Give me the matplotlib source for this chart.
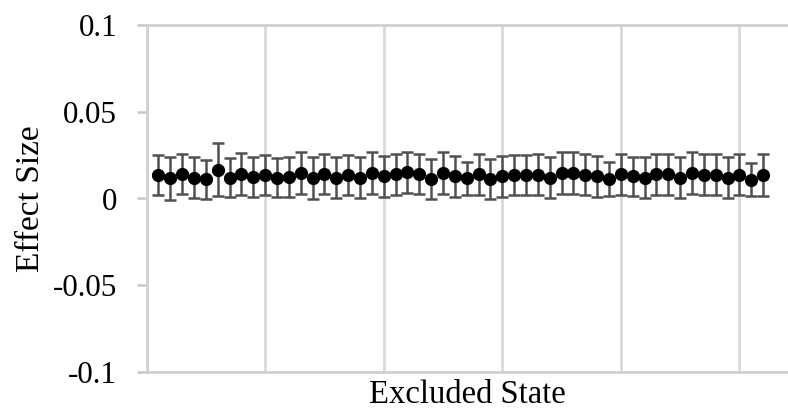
import matplotlib.pyplot as plt
from matplotlib.ticker import MultipleLocator
import numpy as np

# effect size when each state is left out (52 runs)
state_idx = list(range(1, 53))
effect = [0.0137, 0.0117, 0.0140, 0.0121, 0.0111, 0.0166, 0.0121, 0.0142, 0.0123, 0.0137,
          0.0121, 0.0123, 0.0146, 0.0117, 0.0140, 0.0121, 0.0137, 0.0121, 0.0146, 0.0127,
          0.0140, 0.0150, 0.0142, 0.0113, 0.0146, 0.0127, 0.0117, 0.0140, 0.0113, 0.0127,
          0.0137, 0.0137, 0.0137, 0.0121, 0.0146, 0.0146, 0.0137, 0.0127, 0.0113, 0.0140,
          0.0127, 0.0121, 0.0140, 0.0140, 0.0121, 0.0146, 0.0137, 0.0137, 0.0121, 0.0137,
          0.0108, 0.0137]
err = [0.0115, 0.0125, 0.0115, 0.0120, 0.0113, 0.0152, 0.0115, 0.0120, 0.0115, 0.0115,
       0.0115, 0.0115, 0.0120, 0.0122, 0.0115, 0.0117, 0.0115, 0.0117, 0.0120, 0.0117,
       0.0117, 0.0120, 0.0117, 0.0115, 0.0120, 0.0117, 0.0096, 0.0117, 0.0115, 0.0117,
       0.0115, 0.0115, 0.0117, 0.0117, 0.0120, 0.0120, 0.0117, 0.0117, 0.0096, 0.0117,
       0.0115, 0.0117, 0.0117, 0.0117, 0.0117, 0.0120, 0.0117, 0.0117, 0.0117, 0.0117,
       0.0096, 0.0120]
ytick_vals = [-0.1, -0.05, 0, 0.05, 0.1]
ytick_labels = ['-0.1', '-0.05', '0', '0.05', '0.1']

plt.rcParams['font.family'] = ['Liberation Serif', 'DejaVu Serif']

fig = plt.figure(figsize=(7.88, 4.11), dpi=100)
ax = fig.add_axes([146.5 / 788, 1 - 372 / 411, 1 - 146.5 / 788, (372 - 25) / 411])

ax.errorbar(state_idx, effect, yerr=err, fmt='o', color='black', markersize=8.5,
            ecolor='#505050', elinewidth=1.8, capsize=4, capthick=1.8, zorder=3)

ax.set_xlim(0, 54.1)
ax.set_ylim(-0.1, 0.1)
ax.xaxis.set_major_locator(MultipleLocator(10))
ax.set_yticks(ytick_vals)
ax.set_yticklabels(ytick_labels)
ax.set_xticklabels([])

ax.grid(axis='x', color='#d9d9d9', linewidth=2)
ax.tick_params(axis='x', length=0)
ax.tick_params(axis='y', length=7, width=1.8, color='#c8c8c8', labelsize=22.4, pad=14)

for side in ['left', 'bottom', 'top']:
    ax.spines[side].set_color('#d0d0d0')
    ax.spines[side].set_linewidth(2)
ax.spines['right'].set_visible(False)

ax.set_xlabel('Excluded State', fontsize=23.5, labelpad=2)
ax.set_ylabel('Effect Size', fontsize=24, labelpad=5)

fig.savefig('out.png', dpi=100)
